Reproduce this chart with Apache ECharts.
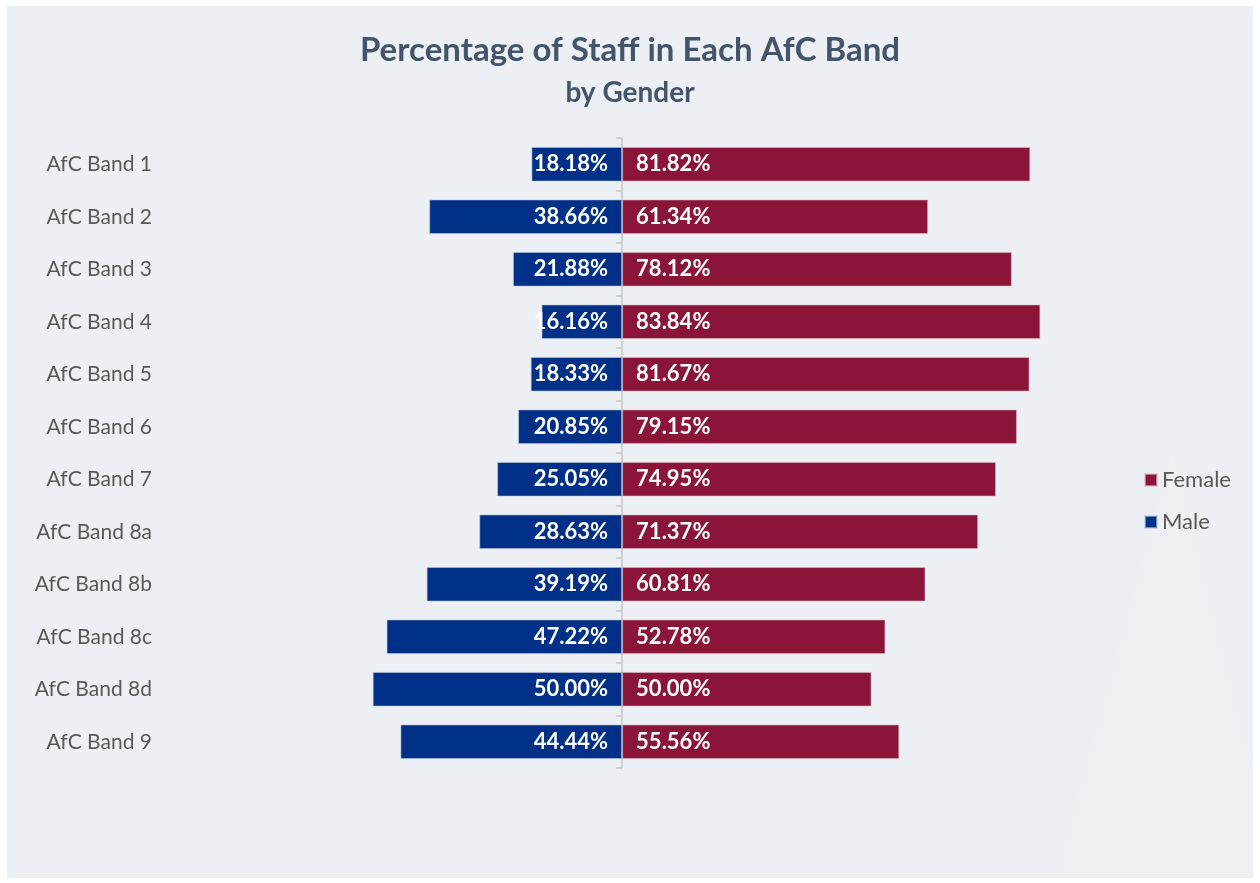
<!DOCTYPE html>
<html>
<head>
<meta charset="utf-8">
<script src="https://cdn.jsdelivr.net/npm/echarts@6/dist/echarts.min.js"></script>
<style>
  html, body { margin: 0; padding: 0; background: #ffffff; }
  #chart { width: 1260px; height: 883px; }
</style>
</head>
<body>
<div id="chart"></div>
<script>
const bands = [
  "AfC Band 1", "AfC Band 2", "AfC Band 3", "AfC Band 4", "AfC Band 5", "AfC Band 6",
  "AfC Band 7", "AfC Band 8a", "AfC Band 8b", "AfC Band 8c", "AfC Band 8d", "AfC Band 9"
];
const male = [18.18, 38.66, 21.88, 16.16, 18.33, 20.85, 25.05, 28.63, 39.19, 47.22, 50.00, 44.44];
const female = [81.82, 61.34, 78.12, 83.84, 81.67, 79.15, 74.95, 71.37, 60.81, 52.78, 50.00, 55.56];

const FONT = "Lato, 'Open Sans', sans-serif";
const MALE_COLOR = "#003087";
const FEMALE_COLOR = "#8a1538";

const myChart = echarts.init(document.getElementById("chart"));
myChart.setOption({
  backgroundColor: "#ffffff",
  textStyle: { fontFamily: FONT },
  graphic: [
    {
      type: "rect",
      z: -10,
      silent: true,
      shape: { x: 7, y: 6, width: 1246, height: 872 },
      style: { fill: "#eceff3" }
    },
    {
      // faint watermark in the lower right corner
      type: "polygon",
      z: -9,
      silent: true,
      shape: { points: [[1173, 451], [1055, 878], [1253, 878], [1253, 770]] },
      style: { fill: "#eef0f3" }
    }
  ],
  title: [
    {
      text: "Percentage of Staff in Each AfC Band",
      left: "center",
      top: 29,
      textStyle: { fontFamily: FONT, fontWeight: "bold", fontSize: 33, color: "#44546a" }
    },
    {
      text: "by Gender",
      left: "center",
      top: 74,
      textStyle: { fontFamily: FONT, fontWeight: "bold", fontSize: 28, color: "#44546a" }
    }
  ],
  legend: {
    orient: "vertical",
    left: 1139,
    top: 464,
    data: ["Female", "Male"],
    icon: "rect",
    itemWidth: 12,
    itemHeight: 12,
    itemGap: 20,
    textStyle: { fontFamily: FONT, fontSize: 22, color: "#595959" }
  },
  grid: {
    top: 138,
    bottom: 115,
    left: 223,
    right: 139,
    containLabel: false
  },
  xAxis: {
    type: "value",
    min: -80,
    max: 100,
    show: false,
    splitLine: { show: false }
  },
  yAxis: [
    {
      type: "category",
      inverse: true,
      data: bands,
      axisLine: { show: false, onZero: false },
      axisTick: { show: false },
      axisLabel: { margin: 71, fontFamily: FONT, fontSize: 21, color: "#595959" }
    },
    {
      type: "category",
      inverse: true,
      position: "left",
      data: bands,
      axisLine: { show: true, onZero: true, lineStyle: { color: "#cfcfd3", width: 2 } },
      axisTick: { show: true, length: 6, lineStyle: { color: "#cfcfd3", width: 2 } },
      axisLabel: { show: false }
    }
  ],
  series: [
    {
      name: "Male",
      type: "bar",
      stack: "total",
      barWidth: "66%",
      itemStyle: { color: MALE_COLOR, borderColor: "rgba(190,200,220,0.6)", borderWidth: 1 },
      label: {
        show: true,
        position: "insideRight",
        distance: 14,
        fontFamily: FONT,
        fontWeight: "bold",
        fontSize: 22,
        color: "#ffffff",
        formatter: p => Math.abs(p.value).toFixed(2) + "%"
      },
      data: male.map(v => -v)
    },
    {
      name: "Female",
      type: "bar",
      stack: "total",
      barWidth: "66%",
      itemStyle: { color: FEMALE_COLOR, borderColor: "rgba(220,190,200,0.6)", borderWidth: 1 },
      label: {
        show: true,
        position: "insideLeft",
        distance: 14,
        fontFamily: FONT,
        fontWeight: "bold",
        fontSize: 22,
        color: "#ffffff",
        formatter: p => p.value.toFixed(2) + "%"
      },
      data: female
    }
  ]
});
</script>
</body>
</html>
